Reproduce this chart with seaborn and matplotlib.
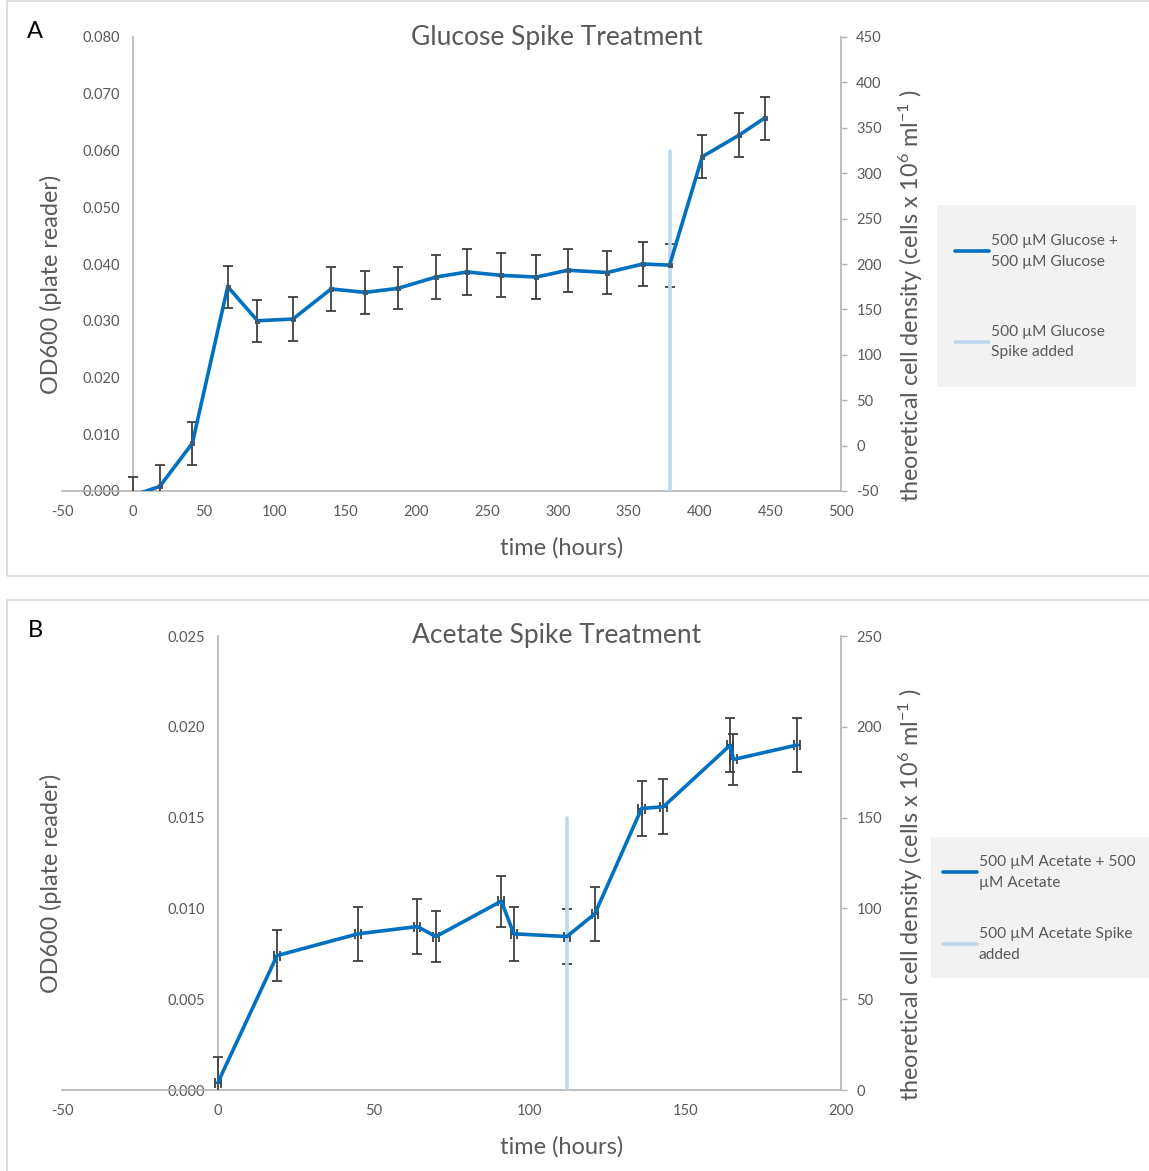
import seaborn as sns
import matplotlib.pyplot as plt
import pandas as pd
from matplotlib.patches import Rectangle
from matplotlib.lines import Line2D

# Panel A - glucose spike
glc_time = [0, 19, 42, 67, 88, 113, 140, 164, 187, 214, 236, 260, 285, 307, 335, 360, 379, 402, 428, 446]
glc_od = [-0.0008, 0.0008, 0.0084, 0.0360, 0.0300, 0.0303, 0.0356, 0.0350, 0.0357, 0.0377,
          0.0386, 0.0380, 0.0377, 0.0389, 0.0385, 0.0400, 0.0398, 0.0589, 0.0627, 0.0657]
glc_err = [0.0033, 0.0038, 0.0038, 0.0037, 0.0037, 0.0039, 0.0038, 0.0038, 0.0037, 0.0039,
           0.0040, 0.0039, 0.0038, 0.0038, 0.0038, 0.0039, 0.0038, 0.0038, 0.0039, 0.0038]
glc_spike_time = [379, 379]
glc_spike_od = [0, 0.060]

# Panel B - acetate spike
ace_time = [0, 19, 45, 64, 70, 91, 95, 112, 121, 136, 143, 164.5, 165.5, 186]
ace_od = [0.0004, 0.0074, 0.0086, 0.0090, 0.00845, 0.0104, 0.0086, 0.00845, 0.0097,
          0.0155, 0.0156, 0.0190, 0.0182, 0.0190]
ace_err = [0.0014, 0.0014, 0.0015, 0.0015, 0.0014, 0.0014, 0.0015, 0.0015, 0.0015,
           0.0015, 0.0015, 0.0015, 0.0014, 0.0015]
ace_xerr = [1.0] * len(ace_time)
ace_spike_time = [112, 112]
ace_spike_od = [0, 0.015]

glc = pd.DataFrame({"time": glc_time, "od": glc_od})
ace = pd.DataFrame({"time": ace_time, "od": ace_od})

sns.set_theme(style="white")
plt.rcParams["font.family"] = ["Lato", "DejaVu Sans"]
plt.rcParams["mathtext.fontset"] = "custom"
plt.rcParams["mathtext.rm"] = "Lato"
plt.rcParams["mathtext.it"] = "Lato:italic"
plt.rcParams["axes.unicode_minus"] = False

BLUE = "#0070c0"
LIGHT = "#bdd7ee"
ERR = "#404040"
AXIS = "#b3b3b3"
TXT = "#595959"

W, H = 1149, 1171
fig = plt.figure(figsize=(W / 100, H / 100), dpi=100)


def fx(px):
    return px / W


def fy(py):
    return 1 - py / H


# panel frames
fig.patches.append(Rectangle((fx(7), fy(576)), fx(1160), 575 / H, transform=fig.transFigure,
                             fill=False, edgecolor="#d9d9d9", lw=1.2))
fig.patches.append(Rectangle((fx(7), fy(1180)), fx(1160), 580 / H, transform=fig.transFigure,
                             fill=False, edgecolor="#d9d9d9", lw=1.2))


def make_panel(top_px, df, err, xerr, spike_t, spike_od, xlim, ylim, yticks, yfmt,
               rlim, rticks, title, letter, labels, leg_box, leg_pos, leg_space, markers):
    ax = fig.add_axes([fx(62), fy(top_px + 454), fx(779), 454 / H])
    ax.set_xlim(*xlim)
    ax.set_ylim(*ylim)
    ax.set_yticks(yticks)
    ax.set_yticklabels([yfmt.format(v) for v in yticks])
    ax.set_xticks(range(xlim[0], xlim[1] + 1, 50))
    ax.spines["left"].set_position(("data", 0))
    ax.spines["top"].set_visible(False)
    ax.spines["right"].set_visible(False)
    for s in ["left", "bottom"]:
        ax.spines[s].set_color(AXIS)
        ax.spines[s].set_linewidth(1.2)
    ax.tick_params(axis="y", length=0, pad=9, labelcolor=TXT, labelsize=10.5)
    ax.tick_params(axis="x", length=0, pad=10, labelcolor=TXT, labelsize=10.5)

    ax.errorbar(df["time"], df["od"], yerr=err, xerr=xerr, fmt="none", ecolor=ERR,
                elinewidth=1.3, capsize=3.8, capthick=1.3, zorder=3)
    sns.lineplot(x=spike_t, y=spike_od, ax=ax, color=LIGHT, linewidth=2.6, sort=False,
                 estimator=None, zorder=4)
    if markers:
        sns.lineplot(data=df, x="time", y="od", ax=ax, color=BLUE, linewidth=2.6, sort=False,
                     estimator=None, marker="s", markersize=3.5, markerfacecolor="#3a5a7a",
                     markeredgecolor="#3a5a7a", zorder=5)
    else:
        sns.lineplot(data=df, x="time", y="od", ax=ax, color=BLUE, linewidth=2.6, sort=False,
                     estimator=None, zorder=5)

    ax.set_xlabel("time (hours)", fontsize=17, color=TXT)
    ax.xaxis.set_label_coords(0.642, -0.101)
    ax.set_ylabel("OD600 (plate reader)", fontsize=16.8, color=TXT)
    ax.yaxis.set_label_coords(0.0, 0.454)

    ax2 = ax.twinx()
    ax2.set_ylim(*rlim)
    ax2.set_yticks(rticks)
    for s in ["left", "top", "bottom"]:
        ax2.spines[s].set_visible(False)
    ax2.spines["right"].set_color(AXIS)
    ax2.spines["right"].set_linewidth(1.2)
    ax2.tick_params(axis="y", length=4, width=1, color=AXIS, pad=7, labelcolor=TXT, labelsize=10.5)
    ax2.set_ylabel("theoretical cell density (cells x 10$^{6}$ ml$^{-1}$ )", fontsize=16.8, color=TXT)
    ax2.yaxis.set_label_coords(1.072, 0.43)

    fig.text(fx(557), fy(top_px), title, ha="center", va="center", fontsize=19, color=TXT)
    fig.text(fx(35), fy(top_px - 6), letter, ha="center", va="center", fontsize=17, color="black")

    bx0, by0, bx1, by1 = leg_box
    fig.patches.append(Rectangle((fx(bx0), fy(by1)), fx(bx1 - bx0), (by1 - by0) / H,
                                 transform=fig.transFigure, facecolor="#f2f2f2",
                                 edgecolor="none", zorder=0))
    handles = [Line2D([], [], color=BLUE, lw=2.6), Line2D([], [], color=LIGHT, lw=2.6)]
    leg = fig.legend(handles, labels, loc="upper left",
                     bbox_to_anchor=(fx(leg_pos[0]), fy(leg_pos[1])),
                     frameon=False, fontsize=11.2, handlelength=2.2, handletextpad=0.1,
                     labelspacing=leg_space, borderpad=0, borderaxespad=0, labelcolor=TXT)
    for t in leg.get_texts():
        t.set_linespacing(1.6)
    return ax


make_panel(37, glc, glc_err, None, glc_spike_time, glc_spike_od, (-50, 500), (0, 0.08),
           [0, 0.01, 0.02, 0.03, 0.04, 0.05, 0.06, 0.07, 0.08], "{:.3f}",
           (-50, 450), list(range(-50, 451, 50)), "Glucose Spike Treatment", "A",
           ["500 µM Glucose +\n500 µM Glucose", "500 µM Glucose\nSpike added"],
           (937, 205, 1136, 387), (955, 234), 3.6, True)

make_panel(636, ace, ace_err, ace_xerr, ace_spike_time, ace_spike_od, (-50, 200), (0, 0.025),
           [0, 0.005, 0.01, 0.015, 0.02, 0.025], "{:.3f}",
           (0, 250), list(range(0, 251, 50)), "Acetate Spike Treatment", "B",
           ["500 µM Acetate + 500\nµM Acetate", "500 µM Acetate Spike\nadded"],
           (931, 837, 1149, 978), (943, 855), 2.4, False)

fig.savefig("out.png", dpi=100)
